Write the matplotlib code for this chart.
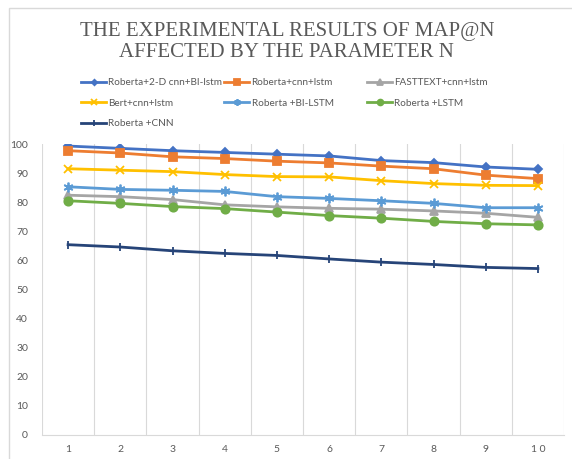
import matplotlib
matplotlib.use("Agg")
import matplotlib.pyplot as plt
from matplotlib.patches import Rectangle

# 数据
n_values = [1, 2, 3, 4, 5, 6, 7, 8, 9, 10]
tick_labels = ["1", "2", "3", "4", "5", "6", "7", "8", "9", "1 0"]
roberta_2d = [99.3, 98.5, 97.7, 97.1, 96.5, 95.9, 94.3, 93.6, 92.1, 91.3]
roberta_cnn_lstm = [97.7, 96.9, 95.6, 95.0, 94.1, 93.5, 92.4, 91.5, 89.3, 88.1]
fasttext_cnn_lstm = [82.4, 81.9, 80.9, 79.1, 78.4, 77.9, 77.6, 77.0, 76.2, 74.8]
bert_cnn_lstm = [91.5, 91.0, 90.5, 89.5, 88.8, 88.7, 87.4, 86.4, 85.8, 85.7]
roberta_bilstm = [85.3, 84.4, 84.1, 83.7, 81.9, 81.3, 80.5, 79.6, 78.1, 78.1]
roberta_lstm = [80.5, 79.6, 78.5, 77.8, 76.6, 75.4, 74.5, 73.4, 72.6, 72.2]
roberta_cnn = [65.4, 64.6, 63.3, 62.4, 61.7, 60.5, 59.4, 58.6, 57.6, 57.2]

series = [
    ("Roberta+2-D cnn+BI-lstm", roberta_2d, "#4472C4", "D", 4),
    ("Roberta+cnn+lstm", roberta_cnn_lstm, "#ED7D31", "s", 6),
    ("FASTTEXT+cnn+lstm", fasttext_cnn_lstm, "#A5A5A5", "^", 6),
    ("Bert+cnn+lstm", bert_cnn_lstm, "#FFC000", "x", 6),
    ("Roberta +BI-LSTM", roberta_bilstm, "#5B9BD5", (6, 2, 0), 7),
    ("Roberta +LSTM", roberta_lstm, "#70AD47", "o", 6),
    ("Roberta +CNN", roberta_cnn, "#264478", "|", 6),
]

txt_color = "#595959"
grid_color = "#D9D9D9"

fig = plt.figure(figsize=(5.72, 4.59), dpi=100)
fig.patches.append(Rectangle((9 / 572, -0.1), 1.2, (459 - 8) / 459 + 0.1,
                             transform=fig.transFigure, fill=False,
                             edgecolor=grid_color, linewidth=1.0))

ax = fig.add_axes([42 / 572, (459 - 435) / 459, (564 - 42) / 572, (435 - 144) / 459])

handles = []
for name, vals, color, marker, ms in series:
    h, = ax.plot(n_values, vals, color=color, linewidth=2.0, marker=marker,
                 markersize=ms, markeredgewidth=1.3, label=name, zorder=3)
    handles.append(h)

ax.set_xlim(0.5, 10.5)
ax.set_ylim(0, 100)
for xb in range(11):
    ax.axvline(xb + 0.5, color=grid_color, linewidth=0.8, zorder=1)
ax.set_xticks(n_values)
ax.set_xticklabels(tick_labels)
ax.set_yticks(range(0, 101, 10))
ax.tick_params(axis="both", length=0, colors=txt_color, labelsize=7.5)
ax.tick_params(axis="x", pad=7)
ax.tick_params(axis="y", pad=10)
for s in ["top", "right", "left"]:
    ax.spines[s].set_visible(False)
ax.spines["bottom"].set_color(grid_color)
for lab in ax.get_xticklabels() + ax.get_yticklabels():
    lab.set_fontfamily("Lato")

fig.text(0.5015, 0.952, "THE EXPERIMENTAL RESULTS OF MAP@N\nAFFECTED BY THE PARAMETER N",
         ha="center", va="top", fontsize=15, color=txt_color,
         family="Liberation Serif", linespacing=1.15)

# 图例，三列
cols = [[0, 3, 6], [1, 4], [2, 5]]
col_x = [81, 224, 367]
for idx, cx in zip(cols, col_x):
    fig.legend([handles[i] for i in idx], [series[i][0] for i in idx],
               loc="upper left", bbox_to_anchor=(cx / 572, 1 - 78 / 459),
               frameon=False, ncol=1, handlelength=2.5, handletextpad=0.25,
               labelspacing=1.15, borderpad=0, borderaxespad=0,
               prop={"family": "Lato", "size": 7.2}, labelcolor=txt_color,
               markerscale=0.7)

fig.savefig("out.png", dpi=100)
